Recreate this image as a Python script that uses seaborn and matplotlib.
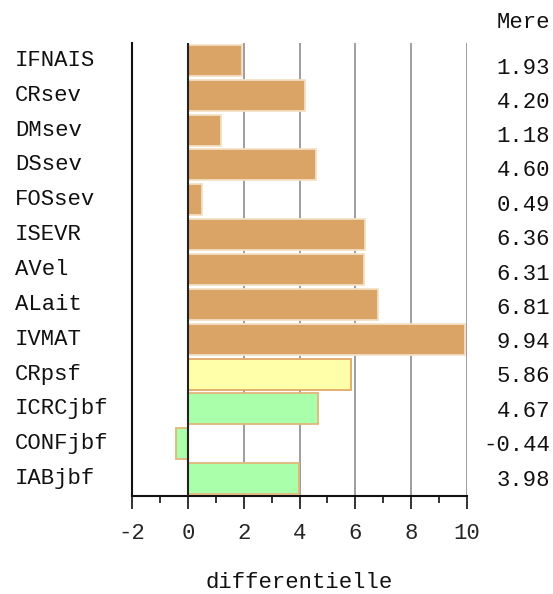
import matplotlib
matplotlib.use('Agg')
import matplotlib.pyplot as plt
import matplotlib.transforms as mtransforms
import seaborn as sns
import pandas as pd

# --- data ---
labels = ['IFNAIS', 'CRsev', 'DMsev', 'DSsev', 'FOSsev', 'ISEVR', 'AVel',
          'ALait', 'IVMAT', 'CRpsf', 'ICRCjbf', 'CONFjbf', 'IABjbf']
values = [1.93, 4.20, 1.18, 4.60, 0.49, 6.36, 6.31, 6.81, 9.94, 5.86, 4.67, -0.44, 3.98]
groups = ['sev'] * 9 + ['psf'] + ['jbf'] * 3
xticks = [-2, 0, 2, 4, 6, 8, 10]
column_title = 'Mere'
xlabel = 'differentielle'

fill = {'sev': '#D9A466', 'psf': '#FFFFAA', 'jbf': '#AAFFAA'}
edge = {'sev': '#F3DFC4', 'psf': '#E2A865', 'jbf': '#E2B67A'}

df = pd.DataFrame({'label': labels, 'value': values, 'group': groups})

sns.set_theme(style='white')
plt.rcParams['font.family'] = ['Liberation Mono', 'DejaVu Sans Mono']
FS = 16

fig = plt.figure(figsize=(5.53, 5.94), dpi=100)
W, H = 553, 594
ax = fig.add_axes([132 / W, 1 - 496 / H, (467 - 132) / W, (496 - 43) / H])

sns.barplot(data=df, y='label', x='value', hue='label', orient='h',
            palette=[fill[g] for g in groups], legend=False, width=0.89,
            saturation=1, ax=ax, zorder=3)
for p, g in zip(ax.patches, groups):
    p.set_edgecolor(edge[g])
    p.set_linewidth(1.3)

ax.set_xlim(-2, 10)
ax.set_ylim(12.5, -0.5)

# grid lines at even values, the zero line darker
for v in xticks[2:]:
    ax.axvline(v, color='#9E9E9E', lw=1.4, zorder=1)
ax.axvline(0, color='#222222', lw=1.5, zorder=4)

ax.set_xticks(xticks)
ax.set_xticks(range(-1, 10, 2), minor=True)
ax.set_xticklabels([str(t) for t in xticks], fontsize=FS)
ax.tick_params(axis='x', which='major', direction='out', length=9.5, width=1.2,
               color='#111111', bottom=True, pad=10)
ax.tick_params(axis='x', which='minor', direction='out', length=5, width=1.2,
               color='#111111', bottom=True)
ax.set_yticks([])
ax.set_ylabel('')
ax.set_xlabel('')

for s in ['top', 'right']:
    ax.spines[s].set_visible(False)
for s in ['left', 'bottom']:
    ax.spines[s].set_color('#111111')
    ax.spines[s].set_linewidth(1.5)

# category names on the left, aligned to the bars
trans = mtransforms.blended_transform_factory(fig.transFigure, ax.transData)
for i, lab in enumerate(labels):
    ax.text(15 / W, i, lab, transform=trans, ha='left', va='center',
            fontsize=FS, color='#111111', clip_on=False)

# value column on the right
top_px, bot_px = 68, 480
step = (bot_px - top_px) / (len(values) - 1)
for i, v in enumerate(values):
    y = 1 - (top_px + i * step) / H
    fig.text(550 / W, y, f'{v:.2f}', ha='right', va='center',
             fontsize=FS, color='#111111')
fig.text(550 / W, 1 - 22 / H, column_title, ha='right', va='center',
         fontsize=FS, color='#111111')

# axis title below the ticks
fig.text(ax.get_position().x0 + ax.get_position().width / 2, 1 - 583 / H, xlabel,
         ha='center', va='center', fontsize=FS, color='#111111')

fig.savefig('out.png', dpi=100, facecolor='white')
